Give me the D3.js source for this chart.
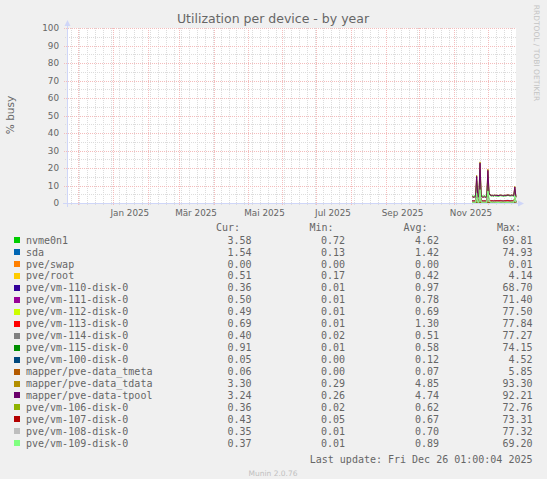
<!DOCTYPE html>
<html lang="de">
<head>
  <meta charset="UTF-8">
  <title>Utilization per device - by year</title>
  <script src="https://d3js.org/d3.v7.min.js"></script>
  <style>
    html, body { margin: 0; padding: 0; background: #f0f0f0; }
    svg { display: block; }
    text { fill: #666; }
  </style>
</head>
<body>
  <svg width="547" height="479"></svg>
  <script>
    // daily averages, Nov 17 .. Dec 26 2025 (one value per day)
    const firstDay = new Date(Date.UTC(2025, 10, 17));

    const names = [
      "nvme0n1", "sda", "pve/swap", "pve/root", "pve/vm-110-disk-0", "pve/vm-111-disk-0",
      "pve/vm-112-disk-0", "pve/vm-113-disk-0", "pve/vm-114-disk-0", "pve/vm-115-disk-0",
      "pve/vm-100-disk-0", "mapper/pve-data_tmeta", "mapper/pve-data_tdata",
      "mapper/pve-data-tpool", "pve/vm-106-disk-0", "pve/vm-107-disk-0",
      "pve/vm-108-disk-0", "pve/vm-109-disk-0"
    ];
    const colors = [
      "#00CC00", "#0066B3", "#FF8000", "#FFCC00", "#330099", "#990099",
      "#CCFF00", "#FF0000", "#808080", "#008F00", "#00487D", "#B35A00",
      "#B38F00", "#6B006B", "#8FB300", "#B30000", "#BEBEBE", "#80FF80"
    ];

    const nvme0n1 = [4.1,3.8,4.0,3.9,12.6,4.2,4.0,18.9,4.4,4.0,3.9,4.1,3.8,4.0,15.8,5.6,4.3,4.0,4.1,3.9,4.2,4.0,4.1,3.9,4.0,4.2,4.1,4.0,3.9,4.1,4.0,4.2,4.3,4.1,4.0,4.2,4.1,3.9,7.8,3.6];
    const sda = [1.5,1.3,1.4,1.4,3.2,1.5,1.4,4.1,1.6,1.4,1.3,1.4,1.3,1.4,3.6,1.8,1.5,1.4,1.4,1.3,1.5,1.4,1.4,1.3,1.4,1.5,1.4,1.4,1.3,1.4,1.4,1.5,1.5,1.4,1.4,1.5,1.4,1.3,2.4,1.5];
    const pveSwap = [0,0,0,0,0,0,0,0,0,0,0,0,0,0,0,0,0,0,0,0,0,0,0,0,0,0,0,0,0,0,0,0,0,0,0,0,0,0,0,0];
    const pveRoot = [0.4,0.4,0.4,0.5,0.6,0.4,0.4,0.7,0.4,0.4,0.4,0.4,0.4,0.4,0.6,0.5,0.4,0.4,0.4,0.4,0.4,0.4,0.4,0.4,0.4,0.4,0.4,0.4,0.4,0.4,0.4,0.4,0.5,0.4,0.4,0.4,0.4,0.4,0.5,0.5];
    const vm110 = [0.9,0.8,0.9,0.8,4.8,0.9,0.8,6.2,1.0,0.9,0.8,0.9,0.8,0.9,5.4,1.6,1.1,1.0,1.0,0.9,1.0,1.0,1.0,0.9,1.0,1.0,1.0,0.9,0.9,1.0,1.0,1.0,1.1,1.0,0.9,1.0,1.0,0.9,2.8,0.4];
    const vm111 = [0.7,0.7,0.7,0.7,3.9,0.8,0.7,5.1,0.8,0.7,0.7,0.7,0.7,0.7,4.4,1.2,0.8,0.7,0.8,0.7,0.8,0.7,0.8,0.7,0.7,0.8,0.8,0.7,0.7,0.8,0.7,0.8,0.8,0.7,0.7,0.8,0.8,0.7,2.2,0.5];
    const vm112 = [0.6,0.6,0.6,0.6,3.5,0.7,0.6,4.6,0.7,0.6,0.6,0.6,0.6,0.6,4.0,1.1,0.7,0.6,0.7,0.6,0.7,0.6,0.7,0.6,0.6,0.7,0.7,0.6,0.6,0.7,0.6,0.7,0.7,0.6,0.6,0.7,0.7,0.6,2.0,0.5];
    const vm113 = [1.2,1.2,1.3,1.2,4.6,1.3,1.2,5.8,1.4,1.3,1.2,1.3,1.2,1.3,5.0,1.7,1.4,1.3,1.3,1.2,1.3,1.3,1.3,1.2,1.3,1.3,1.3,1.2,1.2,1.3,1.3,1.3,1.4,1.3,1.2,1.3,1.3,1.2,2.9,0.7];
    const vm114 = [0.4,0.4,0.4,0.4,3.1,0.5,0.4,4.2,0.5,0.4,0.4,0.4,0.4,0.4,3.6,0.9,0.5,0.4,0.5,0.4,0.5,0.4,0.5,0.4,0.4,0.5,0.5,0.4,0.4,0.5,0.4,0.5,0.5,0.4,0.4,0.5,0.5,0.4,1.6,0.4];
    const vm115 = [0.5,0.5,0.5,0.5,3.3,0.6,0.5,4.4,0.6,0.5,0.5,0.5,0.5,0.5,3.8,1.0,0.6,0.5,0.6,0.5,0.6,0.5,0.6,0.5,0.5,0.6,0.6,0.5,0.5,0.6,0.5,0.6,0.6,0.5,0.5,0.6,0.6,0.5,1.8,0.9];
    const vm100 = [0.1,0.1,0.1,0.1,0.3,0.1,0.1,0.4,0.1,0.1,0.1,0.1,0.1,0.1,0.3,0.1,0.1,0.1,0.1,0.1,0.1,0.1,0.1,0.1,0.1,0.1,0.1,0.1,0.1,0.1,0.1,0.1,0.1,0.1,0.1,0.1,0.1,0.1,0.2,0.05];
    const tmeta = [0.07,0.06,0.07,0.07,0.2,0.07,0.06,0.3,0.07,0.07,0.06,0.07,0.06,0.07,0.2,0.1,0.07,0.07,0.07,0.06,0.07,0.07,0.07,0.06,0.07,0.07,0.07,0.06,0.06,0.07,0.07,0.07,0.07,0.07,0.06,0.07,0.07,0.06,0.1,0.06];
    const tdata = [3.7,3.3,3.5,3.4,15.8,3.6,3.5,23.5,4.0,3.5,3.4,3.6,3.3,3.5,19.3,6.0,4.7,4.4,4.5,4.3,4.6,4.4,4.5,4.3,4.4,4.6,4.5,4.4,4.3,4.5,4.4,4.6,4.7,4.5,4.4,4.6,4.5,4.3,9.5,3.3];
    const tpool = [3.6,3.2,3.4,3.3,15.2,3.5,3.4,22.8,3.9,3.4,3.3,3.5,3.2,3.4,18.6,5.8,4.6,4.3,4.4,4.2,4.5,4.3,4.4,4.2,4.3,4.5,4.4,4.3,4.2,4.4,4.3,4.5,4.6,4.4,4.3,4.5,4.4,4.2,9.1,3.2];
    const vm106 = [0.5,0.5,0.5,0.5,2.4,0.6,0.5,3.2,0.6,0.5,0.5,0.5,0.5,0.5,2.8,0.9,0.6,0.5,0.6,0.5,0.6,0.5,0.6,0.5,0.5,0.6,0.6,0.5,0.5,0.6,0.5,0.6,0.6,0.5,0.5,0.6,0.6,0.5,1.5,0.4];
    const vm107 = [0.6,0.6,0.6,0.6,2.6,0.7,0.6,3.4,0.7,0.6,0.6,0.6,0.6,0.6,3.0,1.0,0.7,0.6,0.7,0.6,0.7,0.6,0.7,0.6,0.6,0.7,0.7,0.6,0.6,0.7,0.6,0.7,0.7,0.6,0.6,0.7,0.7,0.6,1.6,0.4];
    const vm108 = [0.6,0.6,0.6,0.6,2.9,0.7,0.6,3.8,0.7,0.6,0.6,0.6,0.6,0.6,3.3,1.0,0.7,0.6,0.7,0.6,0.7,0.6,0.7,0.6,0.6,0.7,0.7,0.6,0.6,0.7,0.6,0.7,0.7,0.6,0.6,0.7,0.7,0.6,1.7,0.35];
    const vm109 = [0.3,0.2,0.3,0.3,5.6,0.4,0.3,7.6,0.5,0.3,0.3,0.3,0.2,0.3,6.8,3.1,0.5,0.3,0.4,0.3,0.4,0.3,0.4,0.3,0.3,0.4,0.4,0.3,0.3,0.4,0.3,0.4,0.4,0.3,0.3,0.4,0.4,0.3,4.1,0.4];

    const series = [nvme0n1, sda, pveSwap, pveRoot, vm110, vm111, vm112, vm113, vm114,
                    vm115, vm100, tmeta, tdata, tpool, vm106, vm107, vm108, vm109];

    const cur = ["3.58","1.54","0.00","0.51","0.36","0.50","0.49","0.69","0.40","0.91","0.05","0.06","3.30","3.24","0.36","0.43","0.35","0.37"];
    const min = ["0.72","0.13","0.00","0.17","0.01","0.01","0.01","0.01","0.02","0.01","0.00","0.00","0.29","0.26","0.02","0.05","0.01","0.01"];
    const avg = ["4.62","1.42","0.00","0.42","0.97","0.78","0.69","1.30","0.51","0.58","0.12","0.07","4.85","4.74","0.62","0.67","0.70","0.89"];
    const max = ["69.81","74.93","0.01","4.14","68.70","71.40","77.50","77.84","77.27","74.15","4.52","5.85","93.30","92.21","72.76","73.31","77.32","69.20"];

    const yTicks = [0, 10, 20, 30, 40, 50, 60, 70, 80, 90, 100];

    const de = d3.timeFormatLocale({
      dateTime: "%A, der %e. %B %Y, %X", date: "%d.%m.%Y", time: "%H:%M:%S",
      periods: ["AM", "PM"],
      days: ["Sonntag","Montag","Dienstag","Mittwoch","Donnerstag","Freitag","Samstag"],
      shortDays: ["So","Mo","Di","Mi","Do","Fr","Sa"],
      months: ["Januar","Februar","März","April","Mai","Juni","Juli","August","September","Oktober","November","Dezember"],
      shortMonths: ["Jan","Feb","Mär","Apr","Mai","Jun","Jul","Aug","Sep","Okt","Nov","Dez"]
    });
    const fmtMonth = de.utcFormat("%b %Y");

    const svg = d3.select("svg");
    const plotL = 67, plotR = 516, plotT = 28, plotB = 203;

    const x = d3.scaleUtc()
      .domain([new Date(Date.UTC(2024, 10, 21, 1, 0, 4)), new Date(Date.UTC(2025, 11, 26, 1, 0, 4))])
      .range([plotL, plotR]);
    const y = d3.scaleLinear().domain([0, 100]).range([plotB, plotT]);

    svg.append("rect").attr("width", 547).attr("height", 479).attr("fill", "#f0f0f0");
    svg.append("rect").attr("x", plotL).attr("y", plotT)
      .attr("width", plotR - plotL).attr("height", plotB - plotT).attr("fill", "#fff");

    // grid: light dotted lines, weekly/5 % minor, monthly/10 % major
    const minorCol = "#dcdcdc", majorCol = "#f4bcbc";
    const grid = svg.append("g").attr("shape-rendering", "crispEdges");
    const weeks = d3.utcMonday.range(x.domain()[0], x.domain()[1]);
    const months = d3.utcMonth.range(x.domain()[0], x.domain()[1]);
    grid.selectAll(".vmin").data(weeks).enter().append("line")
      .attr("x1", d => Math.round(x(d)) + 0.5).attr("x2", d => Math.round(x(d)) + 0.5)
      .attr("y1", plotT).attr("y2", plotB + 2)
      .attr("stroke", minorCol).attr("stroke-dasharray", "1,1");
    const yMinor = d3.range(5, 100, 10);
    grid.selectAll(".hmin").data(yMinor).enter().append("line")
      .attr("x1", plotL - 2).attr("x2", plotR)
      .attr("y1", d => Math.round(y(d)) + 0.5).attr("y2", d => Math.round(y(d)) + 0.5)
      .attr("stroke", minorCol).attr("stroke-dasharray", "1,1");
    grid.selectAll(".vmaj").data(months).enter().append("line")
      .attr("x1", d => Math.round(x(d)) + 0.5).attr("x2", d => Math.round(x(d)) + 0.5)
      .attr("y1", plotT).attr("y2", plotB + 3)
      .attr("stroke", majorCol).attr("stroke-dasharray", "1,1");
    grid.selectAll(".hmaj").data(yTicks.slice(1)).enter().append("line")
      .attr("x1", plotL - 3).attr("x2", plotR)
      .attr("y1", d => Math.round(y(d)) + 0.5).attr("y2", d => Math.round(y(d)) + 0.5)
      .attr("stroke", majorCol).attr("stroke-dasharray", "1,1");

    // data lines
    const line = d3.line()
      .x((d, i) => x(d3.utcDay.offset(firstDay, i)))
      .y(d => y(d));
    svg.append("g").selectAll("path").data(series).enter().append("path")
      .attr("d", line)
      .attr("fill", "none")
      .attr("stroke", (d, i) => colors[i])
      .attr("stroke-width", 1);

    // axes
    const axisColor = "#CFD6F8";
    svg.append("line").attr("x1", plotL - 4).attr("x2", plotR + 4)
      .attr("y1", plotB + 0.5).attr("y2", plotB + 0.5)
      .attr("stroke", axisColor).attr("shape-rendering", "crispEdges");
    svg.append("line").attr("x1", plotL + 0.5).attr("x2", plotL + 0.5)
      .attr("y1", plotB + 4).attr("y2", plotT - 3)
      .attr("stroke", axisColor).attr("shape-rendering", "crispEdges");
    svg.append("path").attr("d", `M${plotR + 2},${plotB - 2.5}L${plotR + 8},${plotB + 0.5}L${plotR + 2},${plotB + 3.5}Z`)
      .attr("fill", axisColor);
    svg.append("path").attr("d", `M${plotL - 2.5},${plotT - 2}L${plotL + 0.5},${plotT - 8}L${plotL + 3.5},${plotT - 2}Z`)
      .attr("fill", axisColor);

    // y tick labels
    svg.append("g").selectAll("text").data(yTicks).enter().append("text")
      .attr("x", plotL - 8).attr("y", d => y(d) + 3.2)
      .attr("text-anchor", "end")
      .style("font", "8.8px 'DejaVu Sans'")
      .text(d => d);

    // x tick labels, centred in the month
    const labelMonths = d3.utcMonth.every(2).range(new Date(Date.UTC(2025, 0, 1)), x.domain()[1]);
    svg.append("g").selectAll("text").data(labelMonths).enter().append("text")
      .attr("x", d => x(d3.utcDay.offset(d, 15)))
      .attr("y", 216)
      .attr("text-anchor", "middle")
      .style("font", "8.8px 'DejaVu Sans'")
      .text(d => fmtMonth(d));

    svg.append("text").attr("x", 273).attr("y", 23.3)
      .attr("text-anchor", "middle")
      .style("font", "12.5px 'DejaVu Sans'")
      .text("Utilization per device - by year");

    svg.append("text").attr("transform", "translate(14,115) rotate(-90)")
      .attr("text-anchor", "middle")
      .style("font", "10.5px 'DejaVu Sans'")
      .text("% busy");

    svg.append("text").attr("transform", "translate(534,53) rotate(90)")
      .attr("text-anchor", "middle")
      .style("font", "7.5px 'DejaVu Sans'")
      .style("fill", "#c4c4c4")
      .text("RRDTOOL / TOBI OETIKER");

    // legend
    const mono = "10px 'DejaVu Sans Mono'";
    const cols = [251.5, 345, 439, 532.5];
    const heads = ["Cur:", "Min:", "Avg:", "Max:"];
    const headX = [216, 309.5, 403.5, 497];
    svg.append("g").selectAll("text").data(heads).enter().append("text")
      .attr("x", (d, i) => headX[i]).attr("y", 231)
      .style("font", mono).text(d => d);

    const rowY = i => 240 + i * 11.96;
    const leg = svg.append("g").selectAll("g").data(names).enter().append("g");
    leg.append("rect")
      .attr("x", 14).attr("y", (d, i) => Math.round(rowY(i)) - 3)
      .attr("width", 6).attr("height", 6)
      .attr("fill", (d, i) => colors[i]);
    leg.append("text")
      .attr("x", 26).attr("y", (d, i) => rowY(i) + 3.6)
      .style("font", mono).text(d => d);
    [cur, min, avg, max].forEach((vals, c) => {
      leg.append("text")
        .attr("x", cols[c]).attr("y", (d, i) => rowY(i) + 3.6)
        .attr("text-anchor", "end")
        .style("font", mono).text((d, i) => vals[i]);
    });

    svg.append("text").attr("x", 532.5).attr("y", 463.2)
      .attr("text-anchor", "end")
      .style("font", mono)
      .text("Last update: Fri Dec 26 01:00:04 2025");

    svg.append("text").attr("x", 273).attr("y", 475.5)
      .attr("text-anchor", "middle")
      .style("font", "7.5px 'DejaVu Sans'")
      .style("fill", "#c0c0c0")
      .text("Munin 2.0.76");
  </script>
</body>
</html>
